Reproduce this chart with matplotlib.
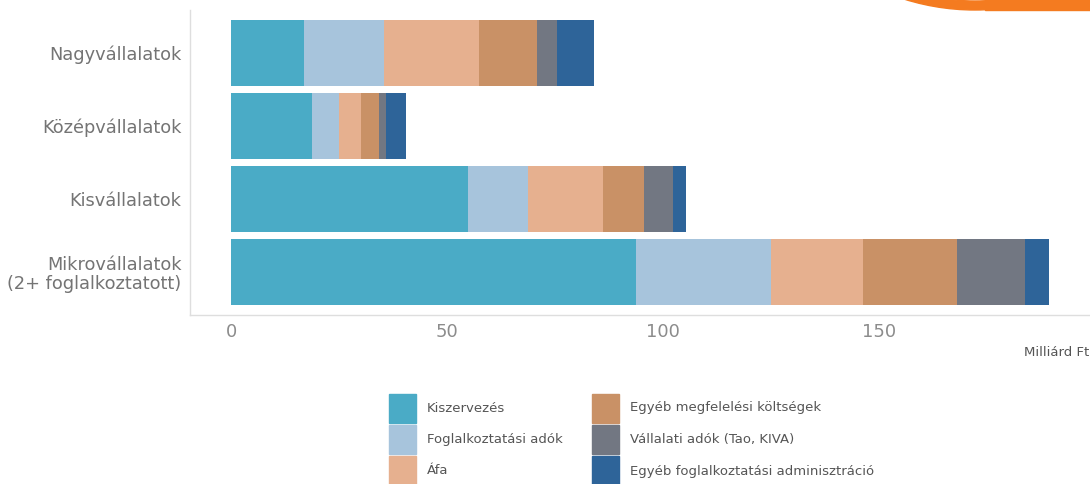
import matplotlib
matplotlib.use("Agg")
import matplotlib.pyplot as plt
from matplotlib.patches import Rectangle, Wedge
import numpy as np

categories = ["Nagyvállalatok", "Középvállalatok", "Kisvállalatok",
              "Mikrovállalatok\n(2+ foglalkoztatott)"]
series_names = ["Kiszervezés", "Foglalkoztatási adók", "Áfa",
                "Egyéb megfelelési költségek", "Vállalati adók (Tao, KIVA)",
                "Egyéb foglalkoztatási adminisztráció"]
kiszervezes = [17.0, 18.7, 54.9, 93.8]
foglalkoztatasi_adok = [18.5, 6.2, 13.9, 31.1]
afa = [22.0, 5.1, 17.2, 21.3]
egyeb_megfeleles = [13.4, 4.2, 9.6, 21.9]
vallalati_adok = [4.5, 1.6, 6.6, 15.6]
egyeb_foglalkoztatasi = [8.5, 4.8, 3.1, 5.7]
xticks = [0, 50, 100, 150]
x_unit = "Milliárd Ft"

colors = ["#4AABC6", "#A7C4DC", "#E6B08F", "#C99166", "#727782", "#2E6499"]
series = [kiszervezes, foglalkoztatasi_adok, afa, egyeb_megfeleles,
          vallalati_adok, egyeb_foglalkoztatasi]

plt.rcParams['font.family'] = ['DejaVu Sans']

W, H = 1090, 484
fig = plt.figure(figsize=(W / 100, H / 100), dpi=100)
ax = fig.add_axes([190 / W, 1 - 315 / H, 900 / W, 305 / H])

y = np.arange(len(categories))
left = np.zeros(len(categories))
for vals, col in zip(series, colors):
    ax.barh(y, vals, left=left, height=0.9, color=col, edgecolor='none')
    left += np.array(vals)

ax.set_ylim(3.58, -0.58)
ax.set_xlim(-9.5, 198.8)
ax.set_yticks(y)
ax.set_yticklabels(categories, fontsize=12.8, color='#747474',
                   linespacing=1.05)
ax.set_xticks(xticks)
ax.set_xticklabels([str(t) for t in xticks], fontsize=13, color='#8c8c8c')
ax.tick_params(axis='both', length=0)
ax.tick_params(axis='x', pad=6)
ax.tick_params(axis='y', pad=6)
for s in ['top', 'right']:
    ax.spines[s].set_visible(False)
for s in ['left', 'bottom']:
    ax.spines[s].set_color('#dedede')
    ax.spines[s].set_linewidth(1)

fig.text(1024 / W, 1 - 353 / H, x_unit, ha='left', va='center',
         fontsize=9.5, color='#555555')

# legend drawn manually (two columns, three rows)
sw_w, sw_h = 27, 29
col_x = [389, 592]
text_dx = 38
row_cy = [408, 439.5, 471]
for i, (name, col) in enumerate(zip(series_names, colors)):
    c, r = divmod(i, 3)
    x0 = col_x[c]
    cy = row_cy[r]
    fig.patches.append(Rectangle((x0 / W, 1 - (cy + sw_h / 2) / H),
                                 sw_w / W, sw_h / H,
                                 transform=fig.transFigure, color=col))
    fig.text((x0 + text_dx) / W, 1 - cy / H, name, ha='left', va='center',
             fontsize=9.5, color='#555555')

# partial orange logo at top right (pixel-inch coordinates)
orange = '#F47B20'
fig.patches.append(Rectangle((985 / 100, (H - 10) / 100), 105 / 100, 10 / 100,
                             transform=fig.dpi_scale_trans, color=orange))
fig.patches.append(Wedge((975 / 100, (H + 226) / 100), 236 / 100, 250, 290,
                         width=9 / 100, transform=fig.dpi_scale_trans,
                         color=orange))

fig.savefig("out.png", dpi=100)
